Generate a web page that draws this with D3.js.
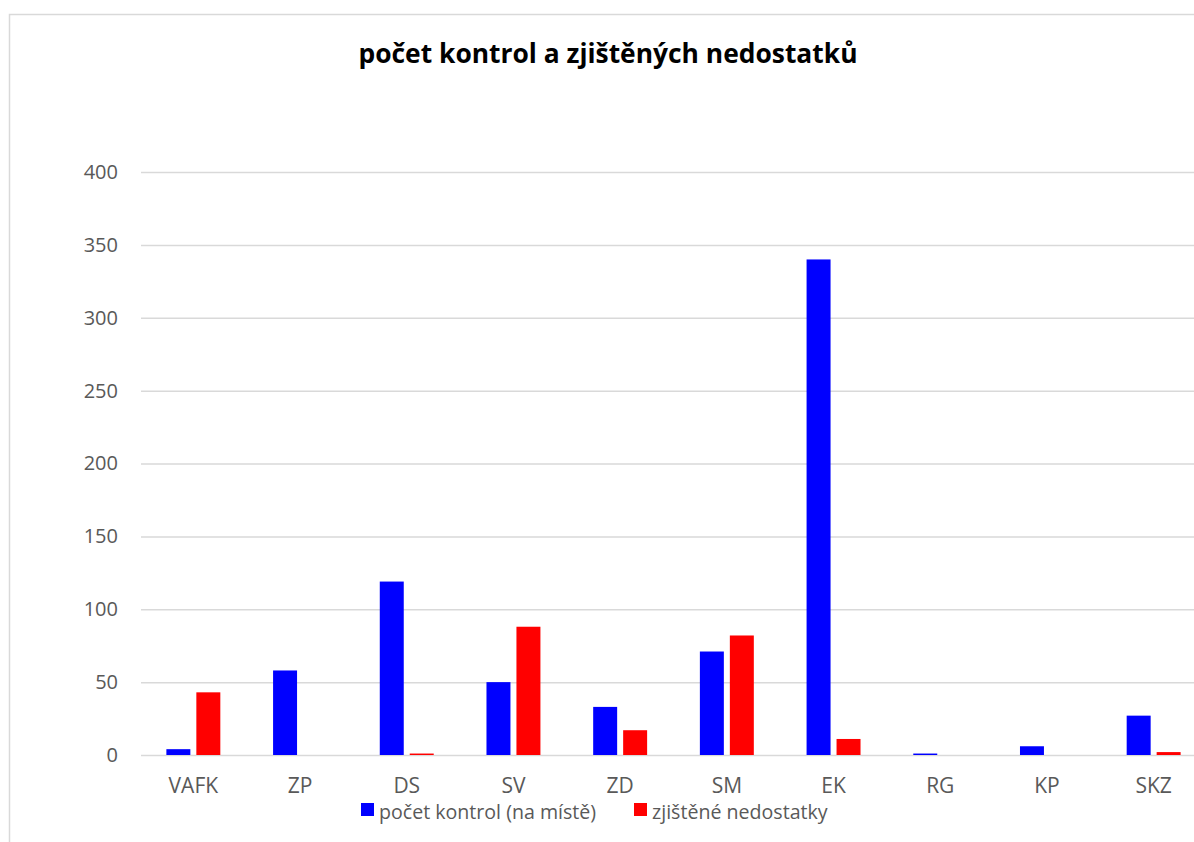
<html>
<head>
    <script src="https://d3js.org/d3.v7.min.js"></script>
    <style>
        body { margin: 0; background: #fff; }
        text { font-family: "Open Sans", Lato, sans-serif; }
    </style>
</head>
<body>
    <svg width="1194" height="842"></svg>
    <script>
        // data
        var categories = ['VAFK', 'ZP', 'DS', 'SV', 'ZD', 'SM', 'EK', 'RG', 'KP', 'SKZ']
        var kontroly = [4, 58, 119, 50, 33, 71, 340, 1, 6, 27]
        var nedostatky = [43, 0, 1, 88, 17, 82, 11, 0, 0, 2]
        var seriesNames = ['počet kontrol (na místě)', 'zjištěné nedostatky']
        var seriesColors = ['#0000ff', '#ff0000']
        var yTicks = [0, 50, 100, 150, 200, 250, 300, 350, 400]
        var title = 'počet kontrol a zjištěných nedostatků'

        var svg = d3.select('svg')

        // outer chart frame (right and bottom go off the page)
        svg.append('rect')
            .attr('x', 9.5)
            .attr('y', 14.5)
            .attr('width', 1300)
            .attr('height', 900)
            .attr('fill', 'none')
            .attr('stroke', '#d9d9d9')
            .attr('stroke-width', 1.5)

        svg.append('text')
            .attr('x', 608)
            .attr('y', 63)
            .attr('text-anchor', 'middle')
            .style('font-size', '26.4px')
            .style('font-weight', 'bold')
            .attr('fill', '#000')
            .text(title)

        var x0 = d3.scaleBand()
            .domain(categories)
            .range([140, 1207])

        var x1 = d3.scaleBand()
            .domain([0, 1])
            .range([0, x0.bandwidth()])
            .paddingInner(0.2)
            .paddingOuter(0.88)

        var y = d3.scaleLinear()
            .domain([0, 400])
            .range([755, 172])

        // gridlines
        var yAxis = d3.axisLeft(y)
            .tickValues(yTicks)
            .tickSize(-1100)
            .tickPadding(23)

        var gy = svg.append('g')
            .attr('transform', 'translate(141, 0)')
            .call(yAxis)
        gy.select('.domain').remove()
        gy.selectAll('.tick line')
            .attr('stroke', '#d9d9d9')
            .attr('stroke-width', 1.5)
        gy.selectAll('.tick text')
            .attr('fill', '#595959')
            .style('font-size', '20px')

        var rows = categories.map(function(c, i) {
            return { cat: c, vals: [kontroly[i], nedostatky[i]] }
        })

        var groups = svg.selectAll('g.grp')
            .data(rows)
            .enter()
            .append('g')
            .classed('grp', true)
            .attr('transform', function(d) {
                return 'translate(' + x0(d.cat) + ',0)'
            })

        groups.selectAll('rect')
            .data(function(d) { return d.vals })
            .enter()
            .append('rect')
            .attr('x', function(d, i) { return x1(i) })
            .attr('width', x1.bandwidth())
            .attr('y', function(d) { return y(d) })
            .attr('height', function(d) { return y(0) - y(d) })
            .attr('fill', function(d, i) { return seriesColors[i] })

        var xAxis = d3.axisBottom(x0).tickSize(0).tickPadding(23)
        var gx = svg.append('g')
            .attr('transform', 'translate(0, 755)')
            .call(xAxis)
        gx.select('.domain').remove()
        gx.selectAll('.tick text')
            .attr('fill', '#595959')
            .style('font-size', '21px')

        // legend
        var legendX = [361, 634]
        var legend = svg.selectAll('g.legend')
            .data(seriesNames)
            .enter()
            .append('g')
            .classed('legend', true)
            .attr('transform', function(d, i) {
                return 'translate(' + legendX[i] + ', 803)'
            })
        legend.append('rect')
            .attr('width', 13)
            .attr('height', 13)
            .attr('fill', function(d, i) { return seriesColors[i] })
        legend.append('text')
            .attr('x', 18)
            .attr('y', 16)
            .attr('fill', '#595959')
            .style('font-size', '19.6px')
            .text(function(d) { return d })
    </script>
</body>
</html>
